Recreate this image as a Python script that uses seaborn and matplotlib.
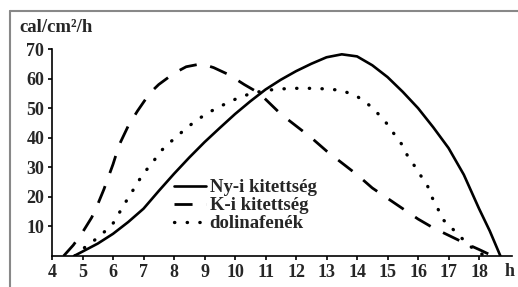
import matplotlib
matplotlib.use("Agg")
import matplotlib.pyplot as plt
import seaborn as sns

sns.set_theme(style="white")
plt.rcParams['font.family'] = ['Liberation Serif', 'DejaVu Serif']
plt.rcParams['font.weight'] = 'bold'

# Ny-i kitettség (solid)
ny_hour = [4.72, 5, 5.5, 6, 6.5, 7, 7.5, 8, 8.5, 9, 9.5,
           10, 10.5, 11, 11.5, 12, 12.5, 13, 13.5, 14, 14.5, 15, 15.5, 16, 16.5,
           17, 17.5, 18, 18.35, 18.7]
ny_val = [0, 1.5, 4.2, 7.5, 11.5, 16, 22, 27.8, 33.3, 38.5, 43.3,
          48, 52.3, 56.3, 59.6, 62.5, 65, 67.2, 68.2, 67.5, 64.5, 60.5, 55.5, 50, 43.5,
          36.5, 27.5, 16, 8.5, 0]

# K-i kitettség (dashed)
k_hour = [4.38, 4.7, 5, 5.3, 5.5, 5.7, 6, 6.2, 6.5, 6.8, 7.2, 7.5, 8, 8.4, 8.9, 9.3,
          9.8, 10.3, 10.8, 11.5, 12, 12.5, 13, 13.5, 14, 14.5, 15, 15.5, 16, 16.5,
          17, 17.5, 18, 18.45]
k_val = [0, 3.7, 8, 13, 17.5, 22.5, 31, 37.5, 44, 49, 55, 58, 61.8, 64, 65, 63.7,
         61.3, 58, 55, 48, 44, 40, 35.5, 31.5, 27.5, 23, 19.5, 16, 12.5, 9.5,
         7, 4.5, 2.2, 0]

# dolinafenék (dotted)
d_hour = [4.75, 5.05, 5.4, 5.7, 6, 6.2, 6.4, 6.6, 6.8, 7, 7.3, 7.5, 7.8, 8.1, 8.4,
          8.75, 9.1, 9.45, 9.8, 10.15, 10.55, 11, 11.5, 12, 12.5, 13, 13.5, 14, 14.4,
          14.7, 15, 15.2, 15.45, 15.65, 15.85, 16.1, 16.3, 16.45, 16.65, 16.8, 17.1,
          17.4, 17.65, 18, 18.2]
d_val = [0, 2.7, 5.4, 8, 11, 14.5, 18, 21.3, 24.7, 28, 31.5, 34.8, 37.8, 40.5, 43.2,
         46, 48.3, 50.3, 52, 53.7, 55, 56, 56.5, 56.7, 56.7, 56.5, 56, 54, 51,
         48, 44.5, 41.5, 38, 34, 31, 27, 24, 20, 16, 12.5, 9.5,
         6.4, 3.7, 1.2, 0]

labels = ['Ny-i kitettség', 'K-i kitettség', 'dolinafenék']
x_ticks = list(range(4, 19))
y_ticks = [10, 20, 30, 40, 50, 60, 70]

fig = plt.figure(figsize=(5.18, 2.87), dpi=100)
ax = fig.add_axes([52 / 518, 1 - 256 / 287, (512 - 52) / 518, (256 - 49) / 287])

sns.lineplot(x=ny_hour, y=ny_val, ax=ax, color='black', lw=1.9,
             label=labels[0], sort=False)
sns.lineplot(x=k_hour, y=k_val, ax=ax, color='black', lw=2.0,
             linestyle=(0, (6.5, 5)), label=labels[1], sort=False)
sns.lineplot(x=d_hour, y=d_val, ax=ax, color='black', lw=2.4,
             linestyle=(0, (0.1, 3.7)), dash_capstyle='round',
             label=labels[2], sort=False)

ax.set_xlim(4, 19.08)
ax.set_ylim(0, 70)
ax.set_xticks(x_ticks)
ax.set_yticks(y_ticks)
ax.tick_params(axis='both', labelsize=13, length=3, width=1.2, color='black',
               direction='out', pad=2.5)
ax.tick_params(axis='x', bottom=True)
ax.tick_params(axis='y', left=True)
for lab in ax.get_xticklabels() + ax.get_yticklabels():
    lab.set_fontweight('bold')
for side in ['top', 'right']:
    ax.spines[side].set_visible(False)
for side in ['left', 'bottom']:
    ax.spines[side].set_color('black')
    ax.spines[side].set_linewidth(1.2)
ax.set_xlabel('')
ax.set_ylabel('')
ax.set_facecolor('white')

fig.text(19 / 518, 1 - 28 / 287, 'cal/cm²/h', fontsize=13.5, fontweight='bold',
         va='center', ha='left')
fig.text(510 / 518, 1 - 271 / 287, 'h', fontsize=13, fontweight='bold',
         va='center', ha='center')

ax.legend(loc='upper left', bbox_to_anchor=(174 / 518, 1 - 179 / 287),
          bbox_transform=fig.transFigure, frameon=False,
          handlelength=1.7, handletextpad=0.2, labelspacing=0.05,
          borderpad=0, borderaxespad=0, prop={'weight': 'bold', 'size': 13.5})

# grey frame of the original picture
fig.add_artist(plt.Line2D([10 / 518, 1], [1 - 11 / 287] * 2, color='#888888',
                          lw=1.5, transform=fig.transFigure))
fig.add_artist(plt.Line2D([10 / 518] * 2, [0, 1 - 11 / 287], color='#888888',
                          lw=1.5, transform=fig.transFigure))

fig.savefig('out.png', dpi=100)
